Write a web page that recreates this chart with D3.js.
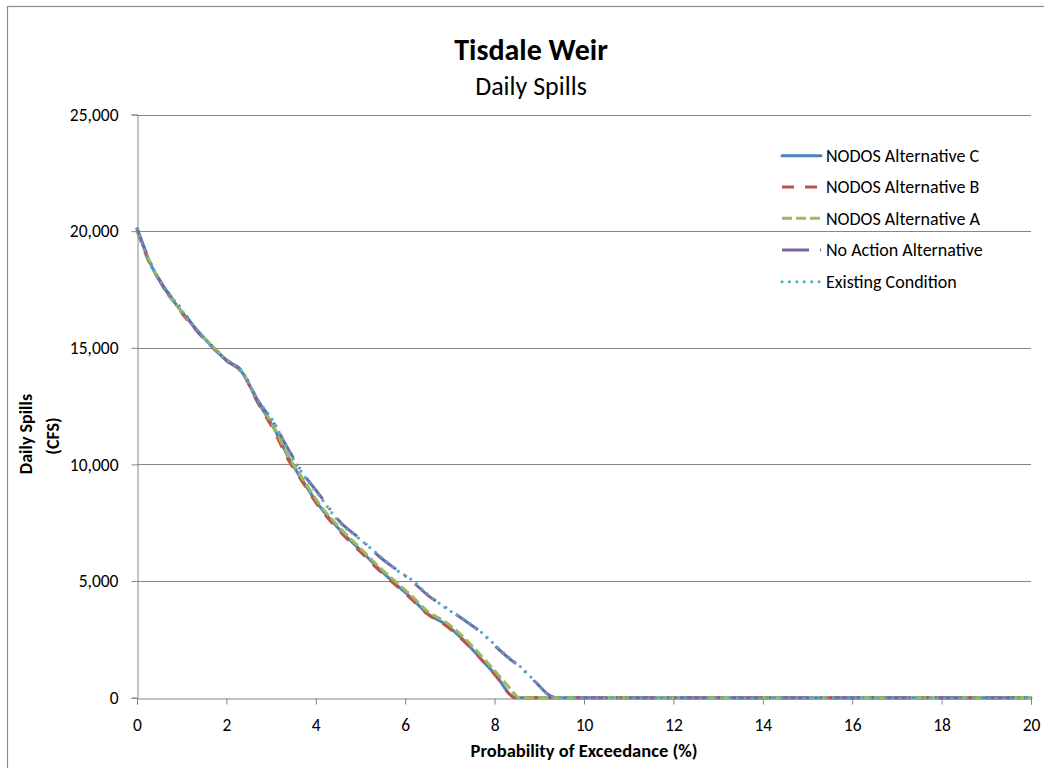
<!DOCTYPE html>
<html><head><meta charset="utf-8">
<script src="https://cdn.jsdelivr.net/npm/d3@7"></script>
<style>
html,body{margin:0;padding:0;background:#fff;}
svg text{font-family:Carlito, Lato, "Open Sans", sans-serif;fill:#000;}
</style></head>
<body><svg id="chart" width="1044" height="768"></svg>
<script>
// Probability of exceedance (%) sample points
const exceedance = [0, 0.3, 0.6, 1.0, 1.35, 1.7, 2.0, 2.35, 2.7, 3.05, 3.4, 3.65, 4.1, 4.55, 5.0, 5.45, 5.8, 6.15, 6.5, 6.9, 7.3, 7.7, 8.05, 8.35, 8.45, 8.55, 8.95, 9.25, 9.45, 10, 12, 14, 16, 18, 20];
// Daily spills (CFS) per series at those points
const altC     = [20100, 18600, 17600, 16550, 15750, 15000, 14470, 13950, 12700, 11600, 10250, 9470, 8170, 7170, 6320, 5460, 4850, 4250, 3600, 3150, 2480, 1650, 910, 130, 0, 0, 0, 0, 0, 0, 0, 0, 0, 0, 0];
const altB     = [20050, 18550, 17650, 16500, 15700, 15000, 14450, 13950, 12650, 11500, 10150, 9400, 8100, 7100, 6250, 5400, 4800, 4200, 3580, 3100, 2450, 1650, 880, 120, 0, 0, 0, 0, 0, 0, 0, 0, 0, 0, 0];
const altA     = [20000, 18650, 17550, 16550, 15750, 15050, 14500, 13980, 12750, 11650, 10300, 9550, 8250, 7250, 6400, 5550, 4950, 4350, 3700, 3250, 2600, 1800, 1050, 380, 150, 0, 0, 0, 0, 0, 0, 0, 0, 0, 0];
const noAction = [20150, 18650, 17600, 16650, 15700, 15050, 14450, 14000, 12750, 11800, 10600, 9800, 8650, 7520, 6800, 6000, 5500, 5000, 4400, 3880, 3350, 2800, 2150, 1650, 1500, 1350, 600, 80, 0, 0, 0, 0, 0, 0, 0];
const existing = [20100, 18600, 17650, 16600, 15750, 15000, 14480, 13980, 12780, 11850, 10550, 9760, 8600, 7480, 6770, 6050, 5480, 5050, 4440, 3850, 3370, 2810, 2190, 1680, 1530, 1370, 620, 60, 0, 0, 0, 0, 0, 0, 0];

const seriesNames = ["NODOS Alternative C", "NODOS Alternative B", "NODOS Alternative A", "No Action  Alternative", "Existing Condition"];
const xTicks = [0, 2, 4, 6, 8, 10, 12, 14, 16, 18, 20];
const yTicks = [0, 5000, 10000, 15000, 20000, 25000];

const seriesValues = [altC, altB, altA, noAction, existing];
const styles = [
  {color:"#4F81BD", dash:null, cap:"round"},
  {color:"#C0504D", dash:"12,11", cap:"butt"},
  {color:"#9BBB59", dash:"10,4", cap:"butt"},
  {color:"#8064A2", dash:"27,11,2,11", cap:"butt"},
  {color:"#4BACC6", dash:"0.1,7.3", cap:"round"}
];

const svg = d3.select("#chart");
// outer chart frame
svg.append("rect").attr("x",7.5).attr("y",6.5).attr("width",1100).attr("height",800)
  .attr("fill","none").attr("stroke","#8c8c8c").attr("stroke-width",1.2);

const x = d3.scaleLinear().domain([0,20]).range([137,1031]);
const y = d3.scaleLinear().domain([0,25000]).range([697.7,114.5]);
const grid = "#868686";

// gridlines
svg.append("g").selectAll("line").data(yTicks.filter(d=>d>0)).join("line")
  .attr("x1",x(0)).attr("x2",x(20)).attr("y1",d=>Math.round(y(d))+0.5).attr("y2",d=>Math.round(y(d))+0.5)
  .attr("stroke",grid).attr("stroke-width",1);

// y axis
const yAxis = svg.append("g").attr("transform",`translate(${Math.round(x(0))+0.5},0)`)
  .call(d3.axisLeft(y).tickValues(yTicks).tickSize(6).tickPadding(13).tickFormat(d3.format(",")));
yAxis.select(".domain").attr("stroke",grid);
yAxis.selectAll(".tick line").attr("stroke",grid);
yAxis.selectAll(".tick text").attr("font-size",17.5).attr("font-family","Carlito, Lato, sans-serif");

// x axis
const xAxis = svg.append("g").attr("transform",`translate(0,${Math.round(y(0))+0.5})`)
  .call(d3.axisBottom(x).tickValues(xTicks).tickSize(6).tickPadding(14).tickFormat(d3.format("d")));
xAxis.select(".domain").attr("stroke",grid);
xAxis.selectAll(".tick line").attr("stroke",grid);
xAxis.selectAll(".tick text").attr("font-size",17.5).attr("font-family","Carlito, Lato, sans-serif");

// series
const line = d3.line().x((d,i)=>x(exceedance[i])).y(d=>y(d)).curve(d3.curveMonotoneX);
seriesValues.forEach((vals,i)=>{
  const s = styles[i];
  svg.append("path").datum(vals).attr("d",line)
    .attr("fill","none").attr("stroke",s.color).attr("stroke-width",3)
    .attr("stroke-dasharray",s.dash).attr("stroke-linecap",s.cap).attr("stroke-linejoin","round");
});

// legend
const legendY = [155.7, 186.9, 218.3, 250, 281.7];
const lg = svg.append("g");
seriesNames.forEach((name,i)=>{
  const s = styles[i];
  lg.append("line").attr("x1",782).attr("x2",821).attr("y1",legendY[i]).attr("y2",legendY[i])
    .attr("stroke",s.color).attr("stroke-width",3).attr("stroke-dasharray",s.dash).attr("stroke-linecap",s.cap);
  lg.append("text").attr("x",826).attr("y",legendY[i]).attr("dy","0.36em").attr("font-size",18).text(name);
});

// titles
svg.append("text").attr("x",531).attr("y",60).attr("text-anchor","middle")
  .attr("font-size",30).attr("font-weight","bold").text("Tisdale Weir");
svg.append("text").attr("x",531).attr("y",95).attr("text-anchor","middle")
  .attr("font-size",26).text("Daily Spills");
svg.append("text").attr("x",584).attr("y",757).attr("text-anchor","middle")
  .attr("font-size",18.5).attr("font-weight","bold").text("Probability of Exceedance (%)");
svg.append("text").attr("transform","translate(32,434) rotate(-90)").attr("text-anchor","middle")
  .attr("font-size",18).attr("font-weight","bold").text("Daily Spills");
svg.append("text").attr("transform","translate(59,436) rotate(-90)").attr("text-anchor","middle")
  .attr("font-size",18).attr("font-weight","bold").text("(CFS)");
</script></body></html>
